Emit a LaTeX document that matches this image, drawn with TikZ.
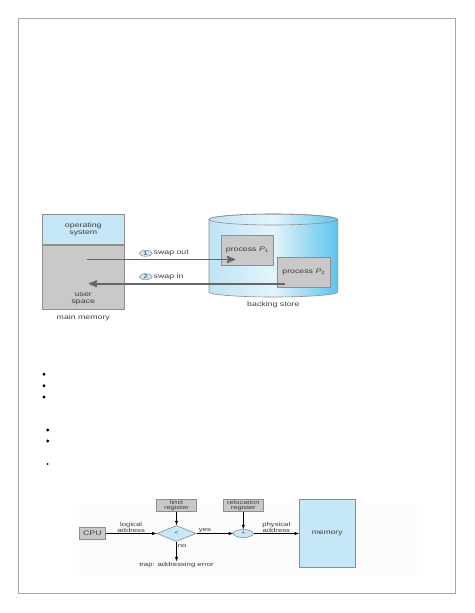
\documentclass[tikz,border=0pt]{standalone}
\usepackage{fontspec}
\usetikzlibrary{positioning, arrows, shapes.geometric}
\newfontfamily\figfont[FakeStretch=1.33]{Liberation Sans}
\definecolor{osblue}{HTML}{C6E7F7}
\definecolor{memgray}{HTML}{C9C9C9}
\definecolor{edgegray}{HTML}{8E8E8E}
\definecolor{txtgray}{HTML}{3C3C3C}
\definecolor{storeleft}{HTML}{BFE4F5}
\definecolor{storemid}{HTML}{E3F4FB}
\definecolor{storeright}{HTML}{5EC4EC}

\begin{document}
\begin{tikzpicture}[x=1pt,y=-1pt,
  every node/.style={font=\figfont\fontsize{6.6}{7}\selectfont, text=txtgray},
  area/.style={draw=edgegray, line width=0.6pt, inner sep=0pt, align=center},
  proc/.style={area, fill=memgray, minimum height=30.7pt},
  tag/.style={ellipse, draw=edgegray, fill=osblue, line width=0.5pt, inner sep=0pt,
    minimum width=13pt, minimum height=6pt, font=\figfont\fontsize{5.5}{6}\selectfont},
  reg/.style={area, fill=memgray, minimum width=40pt, minimum height=12pt,
    font=\figfont\fontsize{5.6}{5.4}\selectfont},
  small/.style={font=\figfont\fontsize{5.8}{5.6}\selectfont, align=center, inner sep=1pt},
  swapline/.style={->, >=stealth', draw=black!60, line width=1.8pt},
  flow/.style={->, >=latex, draw=black, line width=0.5pt}]
  \useasboundingbox (0,0) rectangle (474,613);
  \draw[black!35, line width=1pt] (18.7,18.7) rectangle (455,593);

  % swapping
  \node[area, fill=osblue, minimum width=82pt, minimum height=30.3pt] (os) at (83.3,229.15) {operating\\system};
  \node[area, fill=memgray, minimum width=82pt, minimum height=64.7pt, below=0pt of os] (usr) {};
  \node[align=center, above=2pt of usr.south] (usrtxt) {user\\space};
  \node[below=1.5pt of usr] (mmtxt) {main memory};

  \path[draw=edgegray, line width=0.6pt, left color=storeleft, right color=storeright, middle color=storemid]
    (209,219.5) -- (209,292) arc[start angle=180, end angle=0, x radius=64.35, y radius=5]
    -- (337.7,219.5) arc[start angle=0, end angle=-180, x radius=64.35, y radius=5.5] -- cycle;
  \draw[edgegray, line width=0.6pt] (273.35,219.5) ellipse[x radius=64.35, y radius=5.5];
  \node (bstxt) at (273.35,304.5) {backing store};

  \node[proc, minimum width=51.3pt] (p1) at (247.35,250.35) {process {\itshape P}\textsubscript{1}};
  \node[proc, minimum width=53.7pt] (p2) at (303.85,272.35) {process {\itshape P}\textsubscript{2}};

  \node[tag] (t1) at (145.7,253.3) {1};
  \node[right=1pt of t1, inner sep=0pt] (outtxt) {swap out};
  \node[tag] (t2) at (145.7,276.7) {2};
  \node[right=1pt of t2, inner sep=0pt] (intxt) {swap in};

  \coordinate (outsrc) at (87,259.5);
  \coordinate (outend) at (235,259.5);
  \coordinate (insrc) at (285,283.7);
  \coordinate (inend) at (89,283.7);
  \draw[swapline] (outsrc) -- (outend);
  \draw[swapline] (insrc) -- (inend);

  % bullets
  \fill (44,374.3) circle[radius=1.6];
  \fill (44,385.7) circle[radius=1.6];
  \fill (44,397) circle[radius=1.6];
  \fill (47.7,430) circle[radius=1.6];
  \fill (47.7,441) circle[radius=1.6];
  \fill (47.7,464) circle[radius=1];

  % relocation and limit registers
  \fill[black!1.5] (79,505) rectangle (417,576);
  \node[area, fill=memgray, minimum width=26.2pt, minimum height=12.5pt] (cpu) at (92.4,533.5) {CPU};
  \node[diamond, draw=edgegray, fill=osblue, line width=0.6pt, inner sep=0pt,
    minimum width=39.4pt, minimum height=16pt, font=\figfont\fontsize{5}{5}\selectfont] (lim) at (176.5,533.5) {<};
  \node[ellipse, draw=edgegray, fill=osblue, line width=0.6pt, inner sep=0pt,
    minimum width=20pt, minimum height=8pt, font=\figfont\fontsize{5}{5}\selectfont] (plus) at (243.3,533.5) {+};
  \node[reg] (limreg) at (176.5,505.7) {limit\\register};
  \node[reg] (relreg) at (243.3,505.3) {relocation\\register};
  \node[area, fill=osblue, minimum width=55.7pt, minimum height=67.7pt,
    font=\figfont\fontsize{6.4}{7}\selectfont] (mem) at (327.15,533.5) {memory};
  \node[small, below=19.5pt of lim] (trap) {trap: addressing error};

  \path[flow]
    (cpu) edge node[small, above] {logical\\address} (lim)
    (limreg) edge (lim)
    (lim) edge node[small, above, pos=0.23] {yes} (plus)
          edge node[small, right, pos=0.2] {no} (trap)
    (relreg) edge (plus)
    (plus) edge node[small, above] {physical\\address} (mem);
\end{tikzpicture}
\end{document}
